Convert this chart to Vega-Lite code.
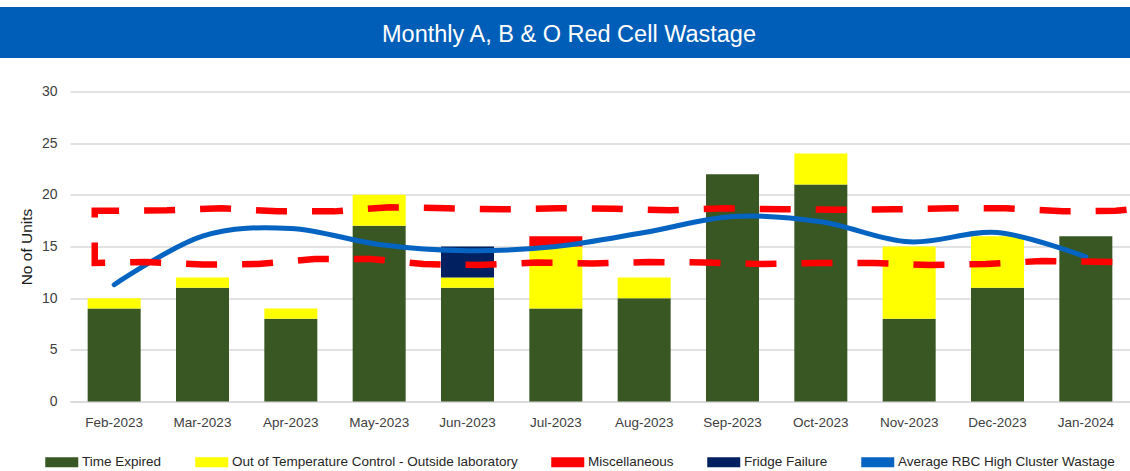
{
  "$schema": "https://vega.github.io/schema/vega-lite/v6.json",
  "padding": {"left": 0, "top": 7, "right": 0, "bottom": 0},
  "autosize": {"type": "pad"},
  "background": "white",
  "spacing": 33.5,
  "bounds": "flush",
  "config": {"font": "Liberation Sans", "view": {"stroke": null}},
  "datasets": {
    "bars": [
      {"month": "Feb-2023", "category": "Time Expired", "units": 9},
      {"month": "Feb-2023", "category": "Out of Temperature Control - Outside laboratory", "units": 1},
      {"month": "Mar-2023", "category": "Time Expired", "units": 11},
      {"month": "Mar-2023", "category": "Out of Temperature Control - Outside laboratory", "units": 1},
      {"month": "Apr-2023", "category": "Time Expired", "units": 8},
      {"month": "Apr-2023", "category": "Out of Temperature Control - Outside laboratory", "units": 1},
      {"month": "May-2023", "category": "Time Expired", "units": 17},
      {"month": "May-2023", "category": "Out of Temperature Control - Outside laboratory", "units": 3},
      {"month": "Jun-2023", "category": "Time Expired", "units": 11},
      {"month": "Jun-2023", "category": "Out of Temperature Control - Outside laboratory", "units": 1},
      {"month": "Jun-2023", "category": "Fridge Failure", "units": 3},
      {"month": "Jul-2023", "category": "Time Expired", "units": 9},
      {"month": "Jul-2023", "category": "Out of Temperature Control - Outside laboratory", "units": 6},
      {"month": "Jul-2023", "category": "Miscellaneous", "units": 1},
      {"month": "Aug-2023", "category": "Time Expired", "units": 10},
      {"month": "Aug-2023", "category": "Out of Temperature Control - Outside laboratory", "units": 2},
      {"month": "Sep-2023", "category": "Time Expired", "units": 22},
      {"month": "Oct-2023", "category": "Time Expired", "units": 21},
      {"month": "Oct-2023", "category": "Out of Temperature Control - Outside laboratory", "units": 3},
      {"month": "Nov-2023", "category": "Time Expired", "units": 8},
      {"month": "Nov-2023", "category": "Out of Temperature Control - Outside laboratory", "units": 7},
      {"month": "Dec-2023", "category": "Time Expired", "units": 11},
      {"month": "Dec-2023", "category": "Out of Temperature Control - Outside laboratory", "units": 5},
      {"month": "Jan-2024", "category": "Time Expired", "units": 16}
    ],
    "avg": [
      {"month": "Feb-2023", "series": "Average RBC High Cluster Wastage", "avg": 11.3},
      {"month": "Mar-2023", "series": "Average RBC High Cluster Wastage", "avg": 16.0},
      {"month": "Apr-2023", "series": "Average RBC High Cluster Wastage", "avg": 16.75},
      {"month": "May-2023", "series": "Average RBC High Cluster Wastage", "avg": 15.2},
      {"month": "Jun-2023", "series": "Average RBC High Cluster Wastage", "avg": 14.6},
      {"month": "Jul-2023", "series": "Average RBC High Cluster Wastage", "avg": 15.0},
      {"month": "Aug-2023", "series": "Average RBC High Cluster Wastage", "avg": 16.35},
      {"month": "Sep-2023", "series": "Average RBC High Cluster Wastage", "avg": 17.9},
      {"month": "Oct-2023", "series": "Average RBC High Cluster Wastage", "avg": 17.4},
      {"month": "Nov-2023", "series": "Average RBC High Cluster Wastage", "avg": 15.45},
      {"month": "Dec-2023", "series": "Average RBC High Cluster Wastage", "avg": 16.35},
      {"month": "Jan-2024", "series": "Average RBC High Cluster Wastage", "avg": 14.0}
    ],
    "annot": [
      {"seq": 1, "pos": 11.3, "val": 13.5},
      {"seq": 2, "pos": 10.5, "val": 13.6},
      {"seq": 3, "pos": 9.87, "val": 13.3},
      {"seq": 4, "pos": 9.23, "val": 13.2},
      {"seq": 5, "pos": 8.6, "val": 13.4},
      {"seq": 6, "pos": 7.97, "val": 13.4},
      {"seq": 7, "pos": 7.33, "val": 13.3},
      {"seq": 8, "pos": 6.69, "val": 13.45},
      {"seq": 9, "pos": 6.06, "val": 13.5},
      {"seq": 10, "pos": 5.42, "val": 13.35},
      {"seq": 11, "pos": 4.78, "val": 13.45},
      {"seq": 12, "pos": 4.14, "val": 13.2},
      {"seq": 13, "pos": 3.5, "val": 13.3},
      {"seq": 14, "pos": 2.9, "val": 13.8},
      {"seq": 15, "pos": 2.27, "val": 13.8},
      {"seq": 16, "pos": 1.63, "val": 13.3},
      {"seq": 17, "pos": 1.0, "val": 13.25},
      {"seq": 18, "pos": 0.36, "val": 13.5},
      {"seq": 19, "pos": -0.22, "val": 13.4},
      {"seq": 20, "pos": -0.22, "val": 18.45},
      {"seq": 21, "pos": 0.6, "val": 18.5},
      {"seq": 22, "pos": 1.22, "val": 18.7},
      {"seq": 23, "pos": 1.85, "val": 18.4},
      {"seq": 24, "pos": 2.49, "val": 18.4},
      {"seq": 25, "pos": 3.12, "val": 18.8},
      {"seq": 26, "pos": 3.77, "val": 18.7},
      {"seq": 27, "pos": 4.39, "val": 18.6},
      {"seq": 28, "pos": 5.02, "val": 18.7},
      {"seq": 29, "pos": 5.67, "val": 18.65},
      {"seq": 30, "pos": 6.29, "val": 18.5},
      {"seq": 31, "pos": 6.92, "val": 18.7},
      {"seq": 32, "pos": 7.57, "val": 18.6},
      {"seq": 33, "pos": 8.2, "val": 18.55},
      {"seq": 34, "pos": 8.83, "val": 18.6},
      {"seq": 35, "pos": 9.47, "val": 18.7},
      {"seq": 36, "pos": 10.09, "val": 18.7},
      {"seq": 37, "pos": 10.74, "val": 18.4},
      {"seq": 38, "pos": 11.34, "val": 18.45},
      {"seq": 39, "pos": 11.5, "val": 18.6}
    ]
  },
  "vconcat": [
    {
      "width": 1130,
      "height": 51,
      "view": {"fill": "#005EB8", "stroke": null},
      "data": {"values": [{"title": "Monthly A, B & O Red Cell Wastage"}]},
      "mark": {"type": "text", "color": "#FFFFFF", "fontSize": 23.5, "align": "center", "baseline": "middle", "dy": 2, "dx": 4},
      "encoding": {"text": {"field": "title", "type": "nominal"}}
    },
    {
      "width": 1130,
      "height": 310,
      "resolve": {"scale": {"x": "independent"}, "axis": {"x": "independent"}},
      "layer": [
        {
          "layer": [
            {
              "data": {"name": "bars"},
              "mark": {"type": "bar"},
              "encoding": {
                "x": {
                  "field": "month", "type": "ordinal",
                  "sort": ["Feb-2023", "Mar-2023", "Apr-2023", "May-2023", "Jun-2023", "Jul-2023", "Aug-2023", "Sep-2023", "Oct-2023", "Nov-2023", "Dec-2023", "Jan-2024"],
                  "scale": {"paddingInner": 0.4, "paddingOuter": 0.2, "range": [70, 1130]},
                  "axis": {"title": null, "ticks": false, "labelPadding": 14, "labelFontSize": 13.5, "labelColor": "#404040", "domainColor": "#D9D9D9", "domainWidth": 1.5, "labelAngle": 0, "grid": false}
                },
                "y": {
                  "field": "units", "type": "quantitative", "stack": "zero",
                  "title": "No of Units",
                  "scale": {"domain": [0, 30]},
                  "axis": {"values": [0, 5, 10, 15, 20, 25, 30], "offset": -70, "domain": false, "ticks": false, "labelPadding": 13, "labelFontSize": 14, "labelColor": "#404040", "gridColor": "#D9D9D9", "gridWidth": 1.3, "titleFontSize": 15.5, "titleFontWeight": "normal", "titleColor": "#1A1A1A", "titlePadding": 7}
                },
                "color": {
                  "field": "category", "type": "nominal",
                  "scale": {
                    "domain": ["Time Expired", "Out of Temperature Control - Outside laboratory", "Miscellaneous", "Fridge Failure", "Average RBC High Cluster Wastage"],
                    "range": ["#385723", "#FFFF00", "#FF0000", "#002060", "#0563C1"]
                  },
                  "legend": {"title": null, "orient": "none", "legendX": 55, "legendY": 448, "direction": "horizontal", "symbolType": "M-3.3,-1H3.3V1H-3.3Z", "symbolSize": 100, "symbolStrokeWidth": 0, "labelOffset": 13.5, "columnPadding": 33, "labelFontSize": 13.5, "labelColor": "#262626", "labelLimit": 0, "padding": 0}
                }
              }
            },
            {
              "data": {"name": "avg"},
              "mark": {"type": "line", "interpolate": "cardinal", "strokeWidth": 5, "strokeCap": "round"},
              "encoding": {
                "x": {"field": "month", "type": "ordinal", "sort": ["Feb-2023", "Mar-2023", "Apr-2023", "May-2023", "Jun-2023", "Jul-2023", "Aug-2023", "Sep-2023", "Oct-2023", "Nov-2023", "Dec-2023", "Jan-2024"]},
                "y": {"field": "avg", "type": "quantitative", "title": "No of Units"},
                "color": {"field": "series", "type": "nominal"}
              }
            }
          ]
        },
        {
          "data": {"name": "annot"},
          "mark": {"type": "line", "color": "#FF0000", "strokeWidth": 6.5, "strokeDash": [31, 25], "strokeCap": "butt", "interpolate": "linear"},
          "encoding": {
            "x": {"field": "pos", "type": "quantitative", "scale": {"domain": [-0.5, 11.5], "range": [70, 1130]}, "axis": null},
            "y": {"field": "val", "type": "quantitative", "title": "No of Units"},
            "order": {"field": "seq", "type": "quantitative"}
          }
        }
      ]
    }
  ]
}
